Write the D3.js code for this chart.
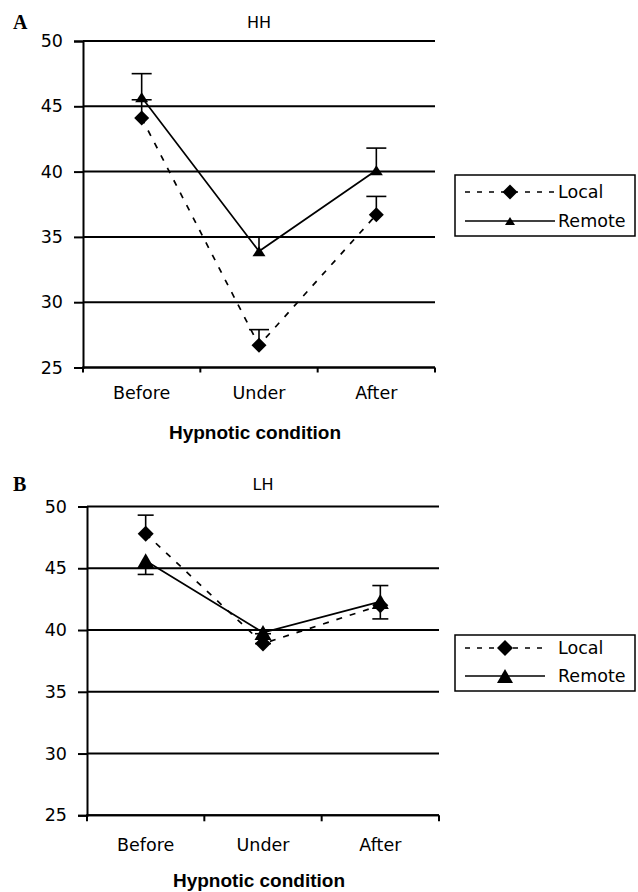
<!DOCTYPE html>
<html>
<head>
<meta charset="utf-8">
<script src="https://cdn.jsdelivr.net/npm/d3@7"></script>
<style>
  body { margin: 0; background: #fff; }
  text { fill: #000; }
</style>
</head>
<body>
<svg id="chart"></svg>
<script>
var width = 638;
var height = 892;

// data
var conditions = ["Before", "Under", "After"];
var yTicks = [25, 30, 35, 40, 45, 50];
var seriesNames = ["Local", "Remote"];

var hhLocal = [44.1, 26.7, 36.7];
var hhLocalErr = [1.4, 1.2, 1.4];
var hhRemote = [45.7, 33.9, 40.1];
var hhRemoteErr = [1.8, 1.1, 1.7];

var lhLocal = [47.8, 38.9, 42.0];
var lhLocalErr = [1.5, 0.8, 1.6];
var lhRemote = [45.6, 39.8, 42.3];
var lhRemoteErr = [1.1, 0.9, 1.4];

var svg = d3.select('#chart')
    .attr('width', width)
    .attr('height', height);

function diamond(s) {
    return "M0," + (-s) + "L" + s + ",0L0," + s + "L" + (-s) + ",0Z";
}
function triangle(w, h) {
    return "M0," + (-h) + "L" + w + "," + h + "L" + (-w) + "," + h + "Z";
}

function drawPanel(p) {
    var g = svg.append('g');

    var x = d3.scaleBand()
        .domain(conditions)
        .range([p.left, p.right]);

    var y = d3.scaleLinear()
        .domain([25, 50])
        .range([p.bottom, p.top]);

    // horizontal grid lines
    g.selectAll('line.grid')
        .data(yTicks)
        .enter()
        .append('line')
        .attr('class', 'grid')
        .attr('x1', p.left)
        .attr('x2', p.right)
        .attr('y1', function(d){ return y(d); })
        .attr('y2', function(d){ return y(d); })
        .style('stroke', '#000')
        .style('stroke-width', 2);

    // y axis
    var yAxis = g.append('g')
        .attr('transform', 'translate(' + p.left + ',0)')
        .call(d3.axisLeft(y).tickValues(yTicks).tickSize(9).tickPadding(11));
    yAxis.select('.domain').style('stroke-width', 2);
    yAxis.selectAll('.tick line').style('stroke-width', 2);
    yAxis.selectAll('text')
        .style('font-family', 'DejaVu Sans')
        .style('font-size', '17.5px');

    // x axis: labels at centres, ticks at band edges
    var xAxis = g.append('g')
        .attr('transform', 'translate(0,' + p.bottom + ')')
        .call(d3.axisBottom(x).tickSize(0).tickPadding(p.labelPad));
    xAxis.select('.domain').remove();
    xAxis.selectAll('text')
        .style('font-family', 'DejaVu Sans')
        .style('font-size', '17.5px');

    var edges = conditions.map(function(c){ return x(c); }).concat([p.right]);
    g.selectAll('line.xtick')
        .data(edges)
        .enter()
        .append('line')
        .attr('x1', function(d){ return d; })
        .attr('x2', function(d){ return d; })
        .attr('y1', p.bottom)
        .attr('y2', p.bottom + p.tickLen)
        .style('stroke', '#000')
        .style('stroke-width', 2);

    g.append('line')
        .attr('x1', p.left - 1)
        .attr('x2', p.right)
        .attr('y1', p.bottom)
        .attr('y2', p.bottom)
        .style('stroke', '#000')
        .style('stroke-width', 2);

    // titles
    g.append('text')
        .attr('x', (p.left + p.right) / 2)
        .attr('y', p.titleY)
        .attr('text-anchor', 'middle')
        .style('font-family', 'DejaVu Sans')
        .style('font-size', '16px')
        .text(p.title);

    g.append('text')
        .attr('x', 13)
        .attr('y', p.titleY + 1)
        .style('font-family', 'Liberation Serif')
        .style('font-weight', 'bold')
        .style('font-size', '20px')
        .text(p.letter);

    g.append('text')
        .attr('x', (p.left + p.right) / 2 - 4)
        .attr('y', p.axisTitleY)
        .attr('text-anchor', 'middle')
        .style('font-family', 'Liberation Sans')
        .style('font-weight', 'bold')
        .style('font-size', '19px')
        .text('Hypnotic condition');

    var cx = function(i){ return x(conditions[i]) + x.bandwidth() / 2; };

    var series = [
        {name: 'Local', values: p.local, err: p.localErr, dir: p.localDir, dash: '6,8'},
        {name: 'Remote', values: p.remote, err: p.remoteErr, dir: p.remoteDir, dash: null}
    ];

    var line = d3.line()
        .x(function(d, i){ return cx(i); })
        .y(function(d){ return y(d); });

    series.forEach(function(s) {
        // error bars (one-sided)
        s.values.forEach(function(v, i) {
            var end = v + s.dir * s.err[i];
            g.append('line')
                .attr('x1', cx(i)).attr('x2', cx(i))
                .attr('y1', y(v)).attr('y2', y(end))
                .style('stroke', '#000').style('stroke-width', 1.6);
            g.append('line')
                .attr('x1', cx(i) - p.cap).attr('x2', cx(i) + p.cap)
                .attr('y1', y(end)).attr('y2', y(end))
                .style('stroke', '#000').style('stroke-width', 1.6);
        });
    });

    series.forEach(function(s) {
        g.append('path')
            .datum(s.values)
            .attr('d', line)
            .style('fill', 'none')
            .style('stroke', '#000')
            .style('stroke-width', 1.7)
            .style('stroke-dasharray', s.dash);
    });

    // markers
    g.selectAll('path.local')
        .data(p.local)
        .enter()
        .append('path')
        .attr('d', diamond(p.diam))
        .attr('transform', function(d, i){ return 'translate(' + cx(i) + ',' + y(d) + ')'; })
        .style('fill', '#000');

    g.selectAll('path.remote')
        .data(p.remote)
        .enter()
        .append('path')
        .attr('d', triangle(p.triW, p.triH))
        .attr('transform', function(d, i){ return 'translate(' + cx(i) + ',' + y(d) + ')'; })
        .style('fill', '#000');

    // legend
    var lg = g.append('g');
    lg.append('rect')
        .attr('x', 455)
        .attr('y', p.legTop)
        .attr('width', 180)
        .attr('height', p.legH)
        .style('fill', '#fff')
        .style('stroke', '#000')
        .style('stroke-width', 1.5);

    seriesNames.forEach(function(name, i) {
        var ly = p.legTop + p.legRow0 + i * p.legStep;
        lg.append('line')
            .attr('x1', 465).attr('x2', p.legLineEnd)
            .attr('y1', ly).attr('y2', ly)
            .style('stroke', '#000')
            .style('stroke-width', 1.7)
            .style('stroke-dasharray', i === 0 ? '5,7' : null);
        var mx = (465 + p.legLineEnd) / 2;
        lg.append('path')
            .attr('d', i === 0 ? diamond(p.diam) : triangle(p.legTriW, p.legTriH))
            .attr('transform', 'translate(' + mx + ',' + ly + ')')
            .style('fill', '#000');
        lg.append('text')
            .attr('x', 558)
            .attr('y', ly)
            .attr('dy', '0.35em')
            .style('font-family', 'DejaVu Sans')
            .style('font-size', '17.5px')
            .text(name);
    });
}

drawPanel({
    letter: 'A', title: 'HH',
    left: 83, right: 435, top: 41, bottom: 367.5,
    titleY: 28, axisTitleY: 439, labelPad: 19, tickLen: 5,
    local: hhLocal, localErr: hhLocalErr, localDir: 1,
    remote: hhRemote, remoteErr: hhRemoteErr, remoteDir: 1,
    cap: 10, diam: 7.5, triW: 6.5, triH: 5,
    legTop: 175, legH: 61, legRow0: 17, legStep: 29, legLineEnd: 555,
    legTriW: 5, legTriH: 4
});

drawPanel({
    letter: 'B', title: 'LH',
    left: 87, right: 439, top: 506.5, bottom: 815.3,
    titleY: 490, axisTitleY: 887, labelPad: 23, tickLen: 6,
    local: lhLocal, localErr: lhLocalErr, localDir: 1,
    remote: lhRemote, remoteErr: lhRemoteErr, remoteDir: -1,
    cap: 8, diam: 8, triW: 8.5, triH: 7.5,
    legTop: 635, legH: 56, legRow0: 13, legStep: 28, legLineEnd: 545,
    legTriW: 8, legTriH: 7
});
</script>
</body>
</html>
